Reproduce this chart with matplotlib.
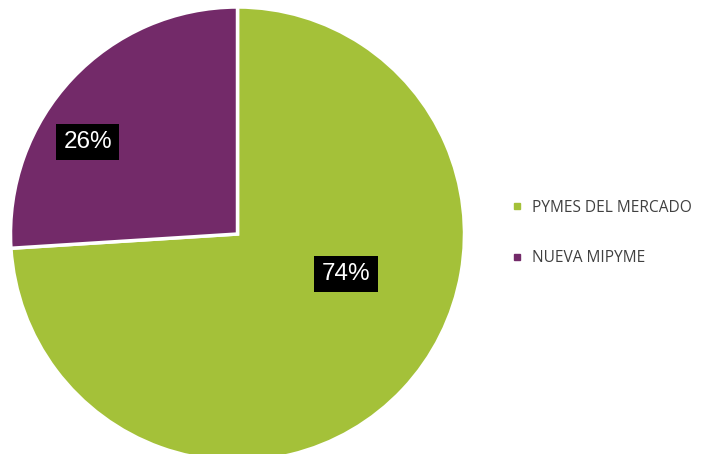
import matplotlib
matplotlib.use("Agg")
import matplotlib.pyplot as plt
from matplotlib.lines import Line2D

# market share of the programme
labels = ["PYMES DEL MERCADO", "NUEVA MIPYME"]
values = [74, 26]
colors = ["#A4C139", "#732A69"]
label_pos = [(0.478, -0.176), (-0.66, 0.405)]

fig = plt.figure(figsize=(7.13, 4.54), dpi=100)
ax = fig.add_axes([10.5 / 713, -7 / 454, 454 / 713, 454 / 454])

wedges, _ = ax.pie(values, colors=colors, startangle=90, counterclock=False,
                   radius=1, wedgeprops=dict(edgecolor="white", linewidth=2.5))
ax.set_xlim(-1, 1)
ax.set_ylim(-1, 1)
ax.set_aspect("auto")

for v, (x, y) in zip(values, label_pos):
    ax.text(x, y, "%d%%" % v, ha="center", va="center", color="white",
            fontsize=17.5, family="Liberation Sans",
            bbox=dict(boxstyle="square,pad=0.3", facecolor="black", edgecolor="none"))

handles = [Line2D([], [], marker="s", linestyle="none", markersize=5,
                  markerfacecolor=c, markeredgecolor=c) for c in colors]
fig.legend(handles, labels, loc="center left", bbox_to_anchor=(497 / 713, 1 - 233 / 454),
           frameon=False, prop={"family": "Open Sans", "size": 11.2},
           labelcolor="#404040", labelspacing=2.2, handlelength=0.8, handletextpad=0.55)

fig.savefig("out.png", dpi=100)
